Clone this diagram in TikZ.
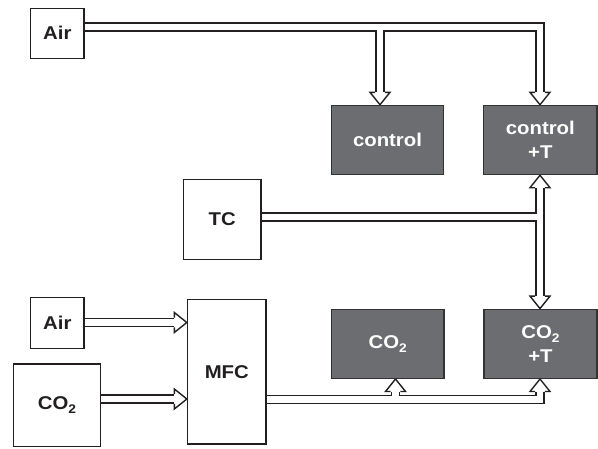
\documentclass[tikz,border=0pt]{standalone}
\usepackage{fontspec}
\usetikzlibrary{calc,backgrounds}
\newfontfamily\labfont{Liberation Sans}[FakeStretch=1.1, BoldFeatures={FakeStretch=1.1}]
\newcommand\subtwo{\raisebox{-0.45ex}{\fontsize{12.5}{12.5}\selectfont 2}}
\definecolor{boxgrey}{RGB}{108,109,112}
\definecolor{ink}{RGB}{35,31,32}
\newcommand\drawpipes{%
  \draw[pipe] (air1.east |- aTop) -- (aTop) -- ($(ctrlT.north -| aTop)+(0,-12.5)$);
  \draw[pipe] (aBr) -- ($(ctrl.north -| aBr)+(0,-12.5)$);
  \draw[pipe] (tc.east |- vx) -- (vx);
  \draw[pipe] ($(ctrlT.south -| vx)+(0,12.5)$) -- ($(co2T.north -| vx)+(0,-12.5)$);
  \draw[pipe] (mfc.east |- mOut) -- (mOut) -- ($(co2T.south -| mOut)+(0,12.5)$);
  \draw[pipe] (mBr) -- ($(co2.south -| mBr)+(0,12.5)$);
  \draw[pipe] (air2.east |- inA) -- ($(mfc.west |- inA)+(-12.5,0)$);
  \draw[pipe] (co2s.east |- inC) -- ($(mfc.west |- inC)+(-12.5,0)$);
}
\begin{document}
\begin{tikzpicture}[x=1pt,y=-1pt,
  box/.style={draw=ink, line width=1.4pt, fill=white, inner sep=0pt, align=center,
    font=\labfont\bfseries\fontsize{18.5}{24}\selectfont, text=ink},
  chamber/.style={box, fill=boxgrey, draw=black!80, text=white},
  pipeouter/.style={draw=ink, line width=9.6pt, line join=miter},
  pipeinner/.style={draw=white, line width=6.8pt, line join=miter},
  headdown/.pic={
    \fill[white] (-10,-12.5) -- (0,0) -- (10,-12.5) -- cycle;
    \draw[ink, line width=1.4pt, line join=miter] (-4.8,-12.5) -- (-10,-12.5) -- (0,0) -- (10,-12.5) -- (4.8,-12.5);
  }
]
\useasboundingbox (0,0) rectangle (598,448);

\node[box, minimum width=53.3pt, minimum height=50pt] (air1) at (57.3,33.2) {Air};
\node[chamber, minimum width=112pt, minimum height=69pt] (ctrl) at (387.5,140) {control};
\node[chamber, minimum width=113.5pt, minimum height=69pt] (ctrlT) at (540.3,140) {control\\+T};
\node[box, minimum width=77.7pt, minimum height=80pt] (tc) at (222.2,219.3) {TC};
\node[box, minimum width=53.3pt, minimum height=51pt] (air2) at (57.3,322.8) {Air};
\node[box, minimum width=87.4pt, minimum height=82.7pt] (co2s) at (57,405.3) {CO\subtwo};
\node[box, minimum width=78.5pt, minimum height=144.7pt] (mfc) at (226.8,371.7) {MFC};
\node[chamber, minimum width=112.4pt, minimum height=69pt] (co2) at (387.8,343.8) {CO\subtwo};
\node[chamber, minimum width=113pt, minimum height=69pt] (co2T) at (540.5,343.8) {CO\subtwo\\+T};

\coordinate (aTop) at (540,27);
\coordinate (aBr) at (380,27);
\coordinate (vx) at (540,217);
\coordinate (mOut) at (540,399.5);
\coordinate (mBr) at (395.5,399.5);
\coordinate (inA) at (150,322.5);
\coordinate (inC) at (150,399);

\begin{scope}[on background layer]
  \tikzset{pipe/.style=pipeouter}
  \drawpipes
  \tikzset{pipe/.style=pipeinner}
  \drawpipes
  \pic at (ctrl.north -| aBr) {headdown};
  \pic at (ctrlT.north -| aTop) {headdown};
  \pic[rotate=180] at (ctrlT.south -| vx) {headdown};
  \pic at (co2T.north -| vx) {headdown};
  \pic[rotate=180] at (co2.south -| mBr) {headdown};
  \pic[rotate=180] at (co2T.south -| mOut) {headdown};
  \pic[rotate=90] at (mfc.west |- inA) {headdown};
  \pic[rotate=90] at (mfc.west |- inC) {headdown};
\end{scope}
\end{tikzpicture}
\end{document}
